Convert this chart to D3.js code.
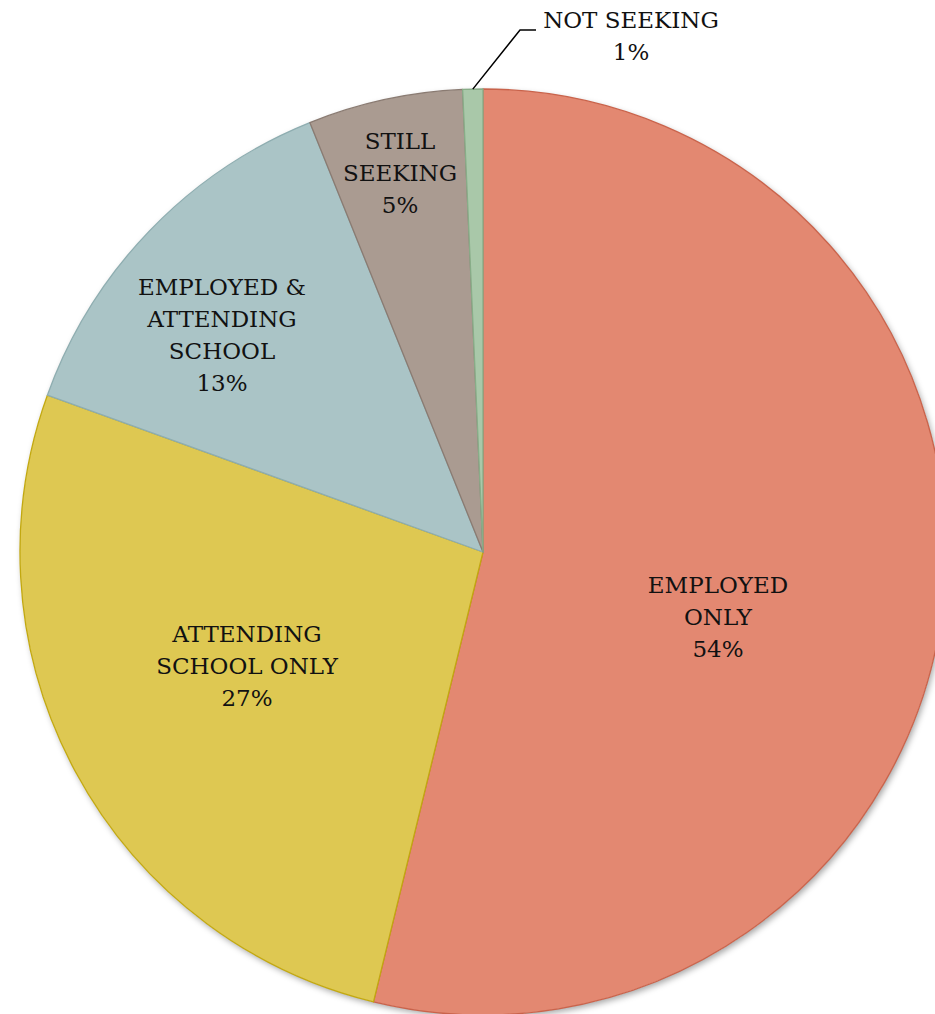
<!DOCTYPE html>
<html>
<head>
<meta charset="utf-8">
<script src="https://cdn.jsdelivr.net/npm/d3@7"></script>
<style>
  html, body { margin: 0; padding: 0; background: #ffffff; overflow: hidden; }
  svg { display: block; }
</style>
</head>
<body>
<svg id="chart" width="935" height="1014"></svg>
<script>
// ---- data ----
const categories = ["EMPLOYED ONLY", "ATTENDING SCHOOL ONLY", "EMPLOYED & ATTENDING SCHOOL", "STILL SEEKING", "NOT SEEKING"];
const labelLines = [["EMPLOYED", "ONLY"], ["ATTENDING", "SCHOOL ONLY"], ["EMPLOYED &", "ATTENDING", "SCHOOL"], ["STILL", "SEEKING"], ["NOT SEEKING"]];
const values = [53.8, 26.7, 13.4, 5.4, 0.7];

// ---- styles / layout ----
const fills   = ["#E38871", "#DEC852", "#AAC4C6", "#AA9B91", "#A9C8A9"];
const strokes = ["#C9634B", "#C2A810", "#8EADB0", "#8A7B72", "#88AD88"];
const cx = 483, cy = 552, radius = 463;
const lineHeight = 32;
// label block centre offsets from pie centre (px)
const labelOffsets = [[235, 65], [-236, 114], [-261, -217], [-83, -379], [148, -516]];
const calloutIndex = 4;

const svg = d3.select("#chart");
const defs = svg.append("defs");
const f = defs.append("filter").attr("id", "shadow")
  .attr("x", "-10%").attr("y", "-10%").attr("width", "120%").attr("height", "120%");
f.append("feDropShadow").attr("dx", 2).attr("dy", 3).attr("stdDeviation", 3)
  .attr("flood-color", "#000").attr("flood-opacity", 0.35);

const total = d3.sum(values);
const pie = d3.pie().sort(null).value(d => d).startAngle(0).endAngle(2 * Math.PI);
const arcs = pie(values);
const arc = d3.arc().innerRadius(0).outerRadius(radius);

const g = svg.append("g").attr("transform", `translate(${cx},${cy})`);

// shadow base
g.append("circle").attr("r", radius).attr("fill", "#ffffff").attr("filter", "url(#shadow)");

g.selectAll("path.slice").data(arcs).enter().append("path")
  .attr("class", "slice")
  .attr("d", arc)
  .attr("fill", (d, i) => fills[i])
  .attr("stroke", (d, i) => strokes[i])
  .attr("stroke-width", 1.3)
  .attr("stroke-linejoin", "round");

// labels
const fmt = v => Math.round(v / total * 100) + "%";
arcs.forEach((d, i) => {
  const lines = labelLines[i].concat([fmt(values[i])]);
  const [ox, oy] = labelOffsets[i];
  const n = lines.length;
  const t = g.append("text")
    .attr("text-anchor", "middle")
    .attr("font-family", "'DejaVu Serif', serif")
    .attr("font-size", 23)
    .attr("fill", "#111");
  lines.forEach((ln, j) => {
    t.append("tspan")
      .attr("x", ox)
      .attr("y", oy + (j - (n - 1) / 2) * lineHeight + 8)
      .text(ln);
  });
});

// leader line for callout slice
{
  const d = arcs[calloutIndex];
  const mid = (d.startAngle + d.endAngle) / 2;
  const sx = radius * Math.sin(mid), sy = -radius * Math.cos(mid);
  const [ox, oy] = labelOffsets[calloutIndex];
  const ky = oy - 6;
  const kx = ox - 111;
  g.append("polyline")
    .attr("points", `${sx},${sy} ${kx},${ky} ${kx + 16},${ky}`)
    .attr("fill", "none")
    .attr("stroke", "#000")
    .attr("stroke-width", 1.5);
}
</script>
</body>
</html>
